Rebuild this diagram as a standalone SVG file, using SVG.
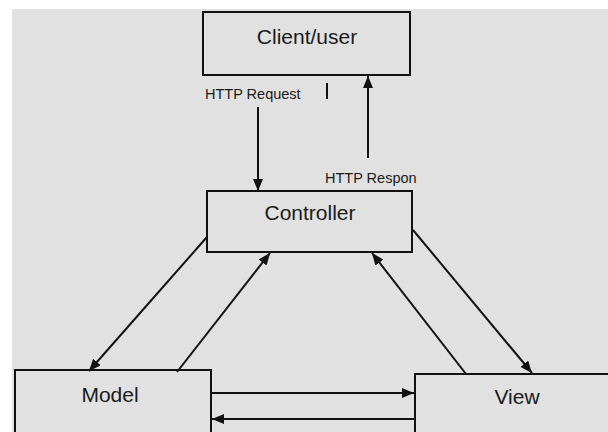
<svg xmlns="http://www.w3.org/2000/svg" width="608" height="432" viewBox="0 0 608 432">
<style>
.box{fill:#e1e1e1;stroke:#111;stroke-width:2}
.lbl{font-family:"Liberation Sans",Arial,sans-serif;font-size:21px;fill:#1a1a1a;text-anchor:middle}
.sm{font-family:"Liberation Sans",Arial,sans-serif;font-size:14.5px;fill:#1a1a1a}
.ln{stroke:#111;stroke-width:2;fill:none}
</style>
<defs>
<marker id="ah" viewBox="0 0 12 10" refX="12" refY="5" markerWidth="12" markerHeight="10" markerUnits="userSpaceOnUse" orient="auto">
<path d="M0,0 L12,5 L0,10 Z" fill="#111"/>
</marker>
</defs>
<rect x="0" y="0" width="608" height="432" fill="#ffffff"/>
<rect x="12" y="9" width="596" height="423" fill="#e1e1e1"/>
<g id="client">
<rect class="box" x="203" y="12" width="207" height="63"/>
<text class="lbl" x="307" y="44">Client/user</text>
</g>
<g id="controller">
<rect class="box" x="207" y="191" width="205" height="61"/>
<text class="lbl" x="310" y="220">Controller</text>
</g>
<g id="model">
<rect class="box" x="15" y="370" width="196" height="70"/>
<text class="lbl" x="110" y="402">Model</text>
</g>
<g id="view">
<rect class="box" x="415" y="374" width="200" height="70"/>
<text class="lbl" x="517" y="404">View</text>
</g>
<g id="connectors">
<line class="ln" x1="258" y1="107" x2="258" y2="191" marker-end="url(#ah)"/>
<line class="ln" x1="368" y1="158" x2="368" y2="76" marker-end="url(#ah)"/>
<line class="ln" x1="327" y1="83" x2="327" y2="99"/>
<line class="ln" x1="207" y1="237" x2="89" y2="371" marker-end="url(#ah)"/>
<line class="ln" x1="177" y1="372" x2="270" y2="253" marker-end="url(#ah)"/>
<line class="ln" x1="466" y1="374" x2="372" y2="253" marker-end="url(#ah)"/>
<line class="ln" x1="413" y1="230" x2="532" y2="373" marker-end="url(#ah)"/>
<line class="ln" x1="211" y1="393" x2="414" y2="393" marker-end="url(#ah)"/>
<line class="ln" x1="415" y1="419" x2="212" y2="419" marker-end="url(#ah)"/>
<text class="sm" x="205" y="99">HTTP Request</text>
<text class="sm" x="325" y="183">HTTP Respon</text>
</g>
</svg>
